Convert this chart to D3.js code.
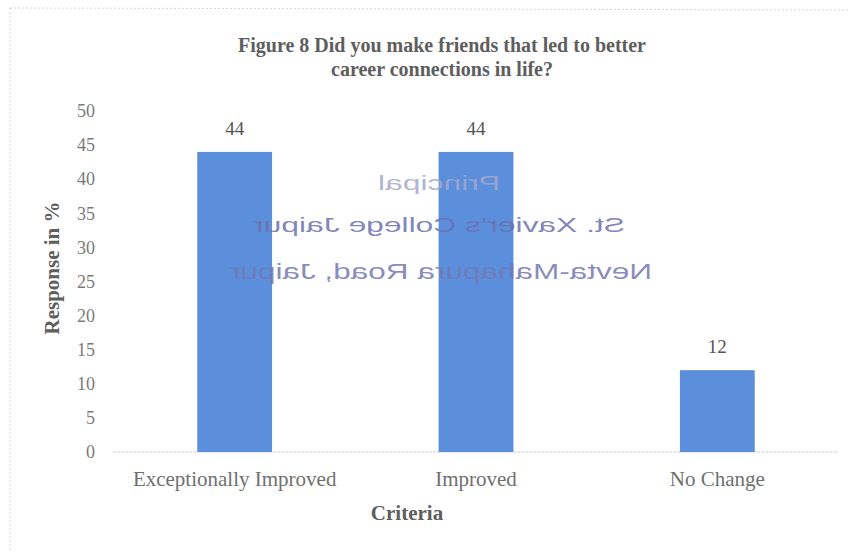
<!DOCTYPE html>
<html><head><meta charset="utf-8">
<script src="https://cdn.jsdelivr.net/npm/d3@7"></script>
<style>
html,body{margin:0;padding:0;background:#fff;}
svg{display:block;}
text{font-family:"Liberation Serif","Times New Roman",serif;}
text.stamp{font-family:"Liberation Sans",Arial,sans-serif;}
</style></head>
<body>
<script>
const categories = ["Exceptionally Improved", "Improved", "No Change"];
const values = [44, 44, 12];
const yTicks = [0, 5, 10, 15, 20, 25, 30, 35, 40, 45, 50];
const titleLines = ["Figure 8 Did you make friends that led to better", "career connections in life?"];
const yAxisTitle = "Response in %";
const xAxisTitle = "Criteria";
const stampLines = ["Principal", "St. Xavier's College Jaipur", "Nevta-Mahapura Road, Jaipur"];

const W = 850, H = 552;
const svg = d3.select("body").append("svg").attr("width", W).attr("height", H);
svg.append("rect").attr("width", W).attr("height", H).attr("fill", "#fff");

// faint dotted frame (scan)
svg.append("line").attr("x1", 10).attr("x2", 10).attr("y1", 8).attr("y2", H)
  .attr("stroke", "#d4d4dc").attr("stroke-dasharray", "2,2");
svg.append("line").attr("x1", 10).attr("x2", W).attr("y1", 8).attr("y2", 10)
  .attr("stroke", "#d4d4dc").attr("stroke-dasharray", "2,2");

const x = d3.scaleBand().domain(categories).range([114, 838]).paddingInner(0.69).paddingOuter(0.345);
const y = d3.scaleLinear().domain([0, 50]).range([452, 111]);

// baseline gridline
svg.append("line").attr("x1", 113).attr("x2", 838).attr("y1", y(0)).attr("y2", y(0))
  .attr("stroke", "#cfcfd6").attr("stroke-width", 1.2).attr("stroke-dasharray", "3,1");

// y axis
const yAxis = d3.axisLeft(y).tickValues(yTicks).tickSize(0).tickPadding(0);
const gy = svg.append("g").attr("transform", "translate(95,0)").call(yAxis);
gy.select(".domain").remove();
gy.selectAll("text").attr("font-size", 18).attr("fill", "#7a7a7a")
  .attr("font-family", "Liberation Serif, serif");

// x axis labels
const xAxis = d3.axisBottom(x).tickSize(0).tickPadding(0);
const gx = svg.append("g").attr("transform", "translate(0,486)").call(xAxis);
gx.select(".domain").remove();
gx.selectAll("text").attr("font-size", 21).attr("fill", "#707070").attr("dy", 0)
  .attr("font-family", "Liberation Serif, serif");

// bars
svg.append("g").selectAll("rect").data(values).join("rect")
  .attr("x", (d, i) => x(categories[i]))
  .attr("width", x.bandwidth())
  .attr("y", d => y(d))
  .attr("height", d => y(0) - y(d))
  .attr("fill", "#5b8fdb");

// data labels
svg.append("g").selectAll("text").data(values).join("text")
  .attr("x", (d, i) => x(categories[i]) + x.bandwidth() / 2)
  .attr("y", d => y(d) - 17)
  .attr("text-anchor", "middle").attr("font-size", 19).attr("fill", "#555")
  .text(d => d);

// title
svg.append("g").selectAll("text").data(titleLines).join("text")
  .attr("x", 442).attr("y", (d, i) => 52 + i * 24)
  .attr("text-anchor", "middle").attr("font-size", 20).attr("font-weight", "bold")
  .attr("fill", "#5e5e5e").text(d => d);

// axis titles
svg.append("text").attr("transform", "translate(59,268) rotate(-90)")
  .attr("text-anchor", "middle").attr("font-size", 21).attr("font-weight", "bold")
  .attr("fill", "#5e5e5e").text(yAxisTitle);
svg.append("text").attr("x", 407).attr("y", 520)
  .attr("text-anchor", "middle").attr("font-size", 21).attr("font-weight", "bold")
  .attr("fill", "#5e5e5e").text(xAxisTitle);

// mirrored stamp (scanned through from reverse side)
const stampPos = [{cx: 439, by: 190, w: 122, fs: 21, c: "#a4a7cc"},
                  {cx: 439, by: 232, w: 372, fs: 21, c: "#6c70ad"},
                  {cx: 441, by: 279, w: 422, fs: 22, c: "#7478b2"}];
const stamp = svg.append("g").attr("transform", "scale(-1,1)");
stamp.selectAll("text").data(stampLines).join("text")
  .attr("class", "stamp")
  .attr("x", (d, i) => -stampPos[i].cx)
  .attr("y", (d, i) => stampPos[i].by)
  .attr("text-anchor", "middle")
  .attr("font-size", (d, i) => stampPos[i].fs)
  .attr("textLength", (d, i) => stampPos[i].w)
  .attr("lengthAdjust", "spacingAndGlyphs")
  .attr("fill", (d, i) => stampPos[i].c)
  .attr("fill-opacity", 0.85)
  .text(d => d);
</script>
</body></html>
